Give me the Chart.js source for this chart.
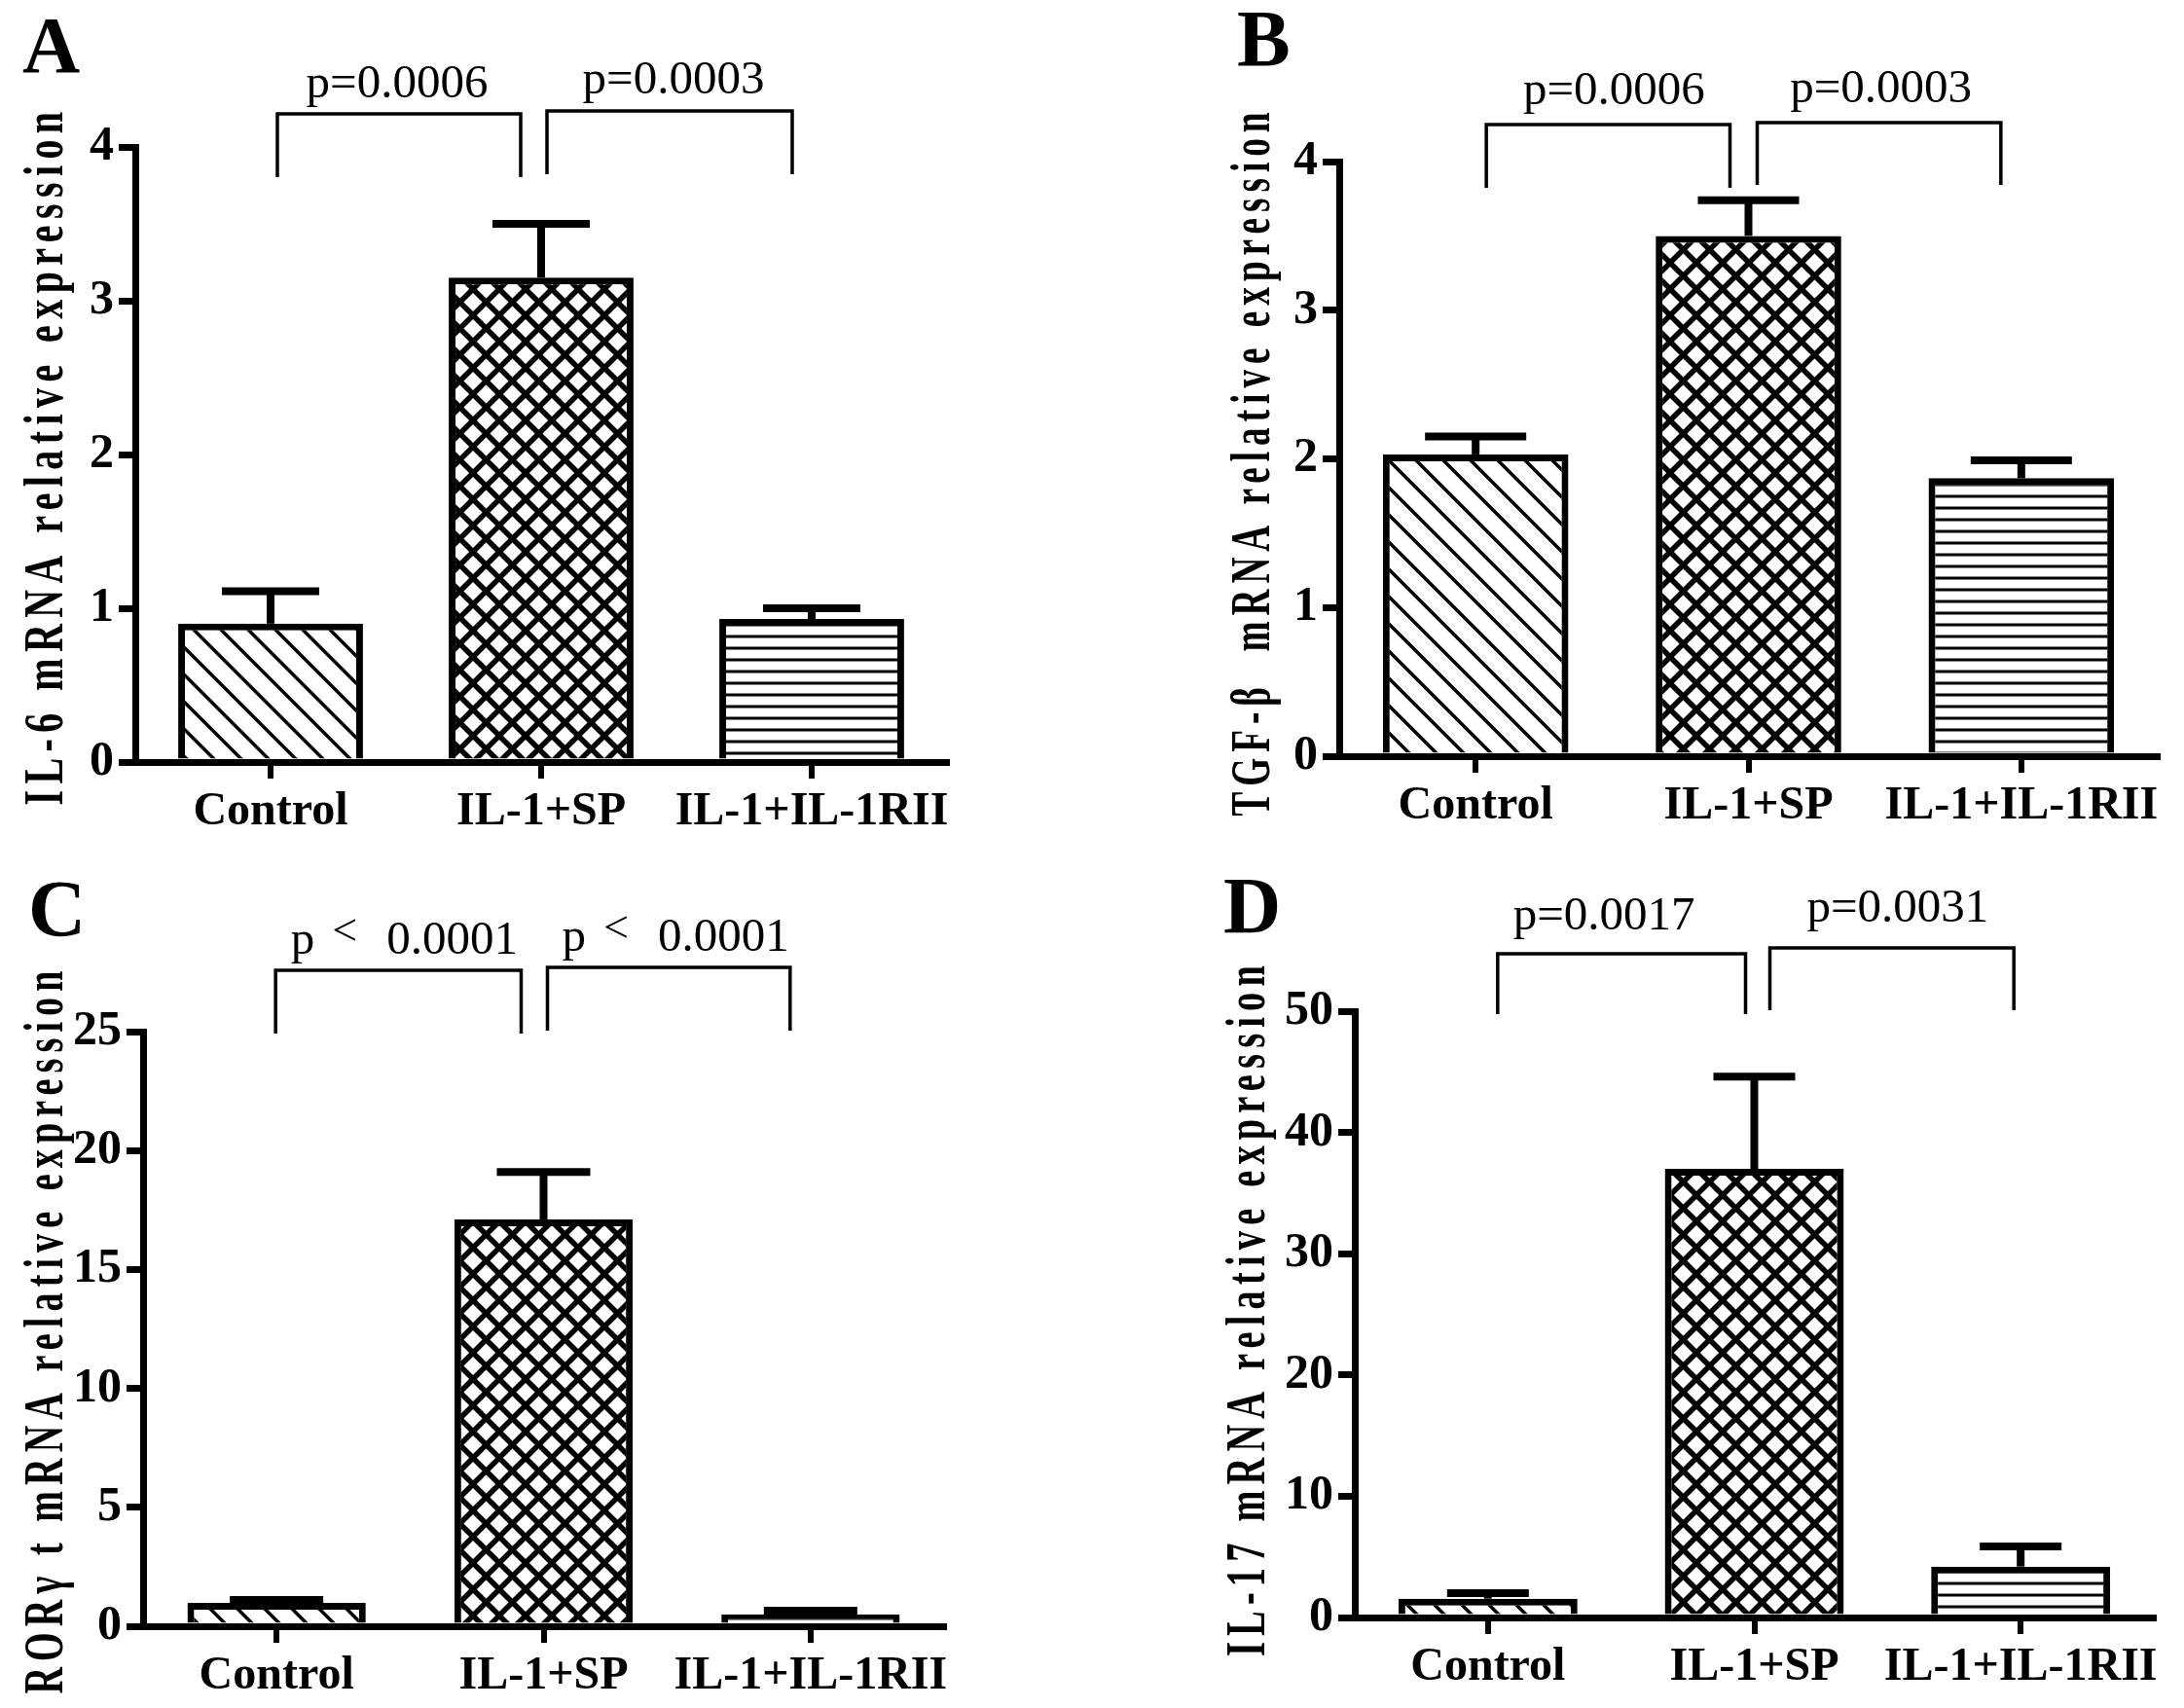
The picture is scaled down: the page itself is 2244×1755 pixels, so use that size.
<!DOCTYPE html>
<html>
<head>
<meta charset="utf-8">
<script src="https://cdn.jsdelivr.net/npm/chart.js@4.4.1/dist/chart.umd.min.js"></script>
<style>
  html, body { margin:0; padding:0; background:#fff; }
  #wrap { position:relative; width:2244px; height:1755px; background:#fff; overflow:hidden; }
  canvas { position:absolute; }
</style>
</head>
<body>
<div id="wrap">
  <canvas id="cA" width="1122" height="877" style="left:0px;top:0px"></canvas>
  <canvas id="cB" width="1122" height="877" style="left:1122px;top:0px"></canvas>
  <canvas id="cC" width="1122" height="877" style="left:0px;top:877px"></canvas>
  <canvas id="cD" width="1122" height="877" style="left:1122px;top:877px"></canvas>
</div>
<script>
// ---------------- DATA ----------------
const categories = ['Control', 'IL-1+SP', 'IL-1+IL-1RII'];

const il6Mean  = [0.90, 3.15, 0.93];
const il6Sem   = [0.21, 0.35, 0.07];
const tgfMean  = [2.03, 3.50, 1.87];
const tgfSem   = [0.12, 0.24, 0.12];
const rorMean  = [0.98, 17.1, 0.50];
const rorSem   = [0.12, 2.00, 0.15];
const il17Mean = [1.55, 37.0, 4.20];
const il17Sem  = [0.45, 7.60, 1.65];

const yMax  = [4, 4, 25, 50];
const yStep = [1, 1, 5, 10];

const pA = ['p=0.0006', 'p=0.0003'];
const pB = ['p=0.0006', 'p=0.0003'];
const pC = ['p < 0.0001', 'p < 0.0001'];
const pD = ['p=0.0017', 'p=0.0031'];

const panelLetters = ['A', 'B', 'C', 'D'];
const yTitles = [
  'IL-6 mRNA relative expression',
  'TGF-\u03B2  mRNA relative expression',
  'ROR\u03B3 t mRNA relative expression',
  'IL-17 mRNA relative expression'
];

// ---------------- STYLE / LAYOUT ----------------
const FONT = "'Liberation Serif', 'Times New Roman', serif";
const W = 1122, H = 877;

const layouts = [
  { axisX:139, right:973,  top:151, bottom:783, barPct:0.683, cap:50,
    letter:[23,74], title:[50,468,719],
    br:[{l:7,r:-21,t:-34,b:31,ty:-51,dx:-2},{l:6,r:-20,t:-37,b:28,ty:-55,dx:4}] },
  { axisX:254, right:1095, top:166, bottom:777, barPct:0.68, cap:52,
    letter:[149,67], title:[168,474,729],
    br:[{l:11,r:-19,t:-38,b:27,ty:-59,dx:6},{l:9,r:-21,t:-40,b:24,ty:-61,dx:2}] },
  { axisX:147, right:970,  top:183, bottom:794, barPct:0.668, cap:48,
    letter:[29,84], title:[50,489,749],
    br:[{l:-1,r:-23,t:-63,b:2,ty:-80,dx:6},{l:4,r:-21,t:-66,b:-1,ty:-83,dx:7}] },
  { axisX:270, right:1091, top:162, bottom:785, barPct:0.672, cap:42,
    letter:[135,81], title:[163,467,716],
    br:[{l:10,r:-9,t:-59,b:3,ty:-84,dx:-18},{l:16,r:-7,t:-65,b:-1,ty:-92,dx:6}] }
];

// ---------------- PATTERNS ----------------
function makePattern(P, draw) {
  const c = document.createElement('canvas');
  c.width = P; c.height = P;
  const g = c.getContext('2d');
  g.fillStyle = '#fff'; g.fillRect(0, 0, P, P);
  g.strokeStyle = '#000'; g.lineCap = 'square';
  draw(g, P);
  return g.createPattern(c, 'repeat');
}
const patDiag = makePattern(28, (g, P) => {
  g.lineWidth = 3.5;
  for (let k = -1; k <= 1; k++) { g.beginPath(); g.moveTo(k*P, 0); g.lineTo(k*P + P, P); g.stroke(); }
});
const patCross = makePattern(27, (g, P) => {
  g.lineWidth = 5.5;
  for (let k = -1; k <= 1; k++) { g.beginPath(); g.moveTo(k*P, 0); g.lineTo(k*P + P, P); g.stroke(); }
  for (let k = 0; k <= 2; k++) { g.beginPath(); g.moveTo(k*P, 0); g.lineTo(k*P - P, P); g.stroke(); }
});
const patHoriz = makePattern(12, (g, P) => {
  g.lineWidth = 3;
  g.beginPath(); g.moveTo(0, 6); g.lineTo(P, 6); g.stroke();
});

// ---------------- PLUGINS ----------------
function errorBarPlugin(sem, L) {
  return {
    id: 'errbars',
    afterDatasetsDraw(chart) {
      const ctx = chart.ctx, ys = chart.scales.y;
      const ds = chart.data.datasets[0];
      const meta = chart.getDatasetMeta(0);
      ctx.save();
      ctx.strokeStyle = '#000';
      ctx.lineWidth = 8;
      ctx.lineCap = 'butt';
      meta.data.forEach((bar, i) => {
        const v = ds.data[i];
        const y0 = ys.getPixelForValue(v);
        const y1 = ys.getPixelForValue(v + sem[i]);
        ctx.beginPath(); ctx.moveTo(bar.x, y0); ctx.lineTo(bar.x, y1); ctx.stroke();
        ctx.beginPath(); ctx.moveTo(bar.x - L.cap, y1); ctx.lineTo(bar.x + L.cap, y1); ctx.stroke();
      });
      ctx.restore();
    }
  };
}

function drawPText(ctx, txt, cx, y) {
  ctx.font = `49px ${FONT}`;
  ctx.textBaseline = 'alphabetic';
  if (txt.indexOf('<') >= 0) {
    const parts = txt.split('<').map(s => s.trim());
    const wp = ctx.measureText(parts[0]).width;
    const wd = ctx.measureText(parts[1]).width;
    ctx.font = `46px ${FONT}`;
    const wl = ctx.measureText('<').width;
    const g1 = 18, g2 = 30;
    const total = wp + g1 + wl + g2 + wd;
    let x = cx - total / 2;
    ctx.textAlign = 'left';
    ctx.font = `49px ${FONT}`;
    ctx.fillText(parts[0], x, y);
    x += wp + g1;
    ctx.font = `46px ${FONT}`;
    ctx.fillText('<', x, y - 9);
    x += wl + g2;
    ctx.font = `49px ${FONT}`;
    ctx.fillText(parts[1], x, y);
  } else {
    ctx.textAlign = 'center';
    ctx.fillText(txt, cx, y);
  }
}

function annotationPlugin(idx, pvals, L) {
  return {
    id: 'annot',
    afterDraw(chart) {
      const ctx = chart.ctx, xs = chart.scales.x, ys = chart.scales.y;
      const topPx = ys.getPixelForValue(ys.max);
      ctx.save();
      ctx.fillStyle = '#000';
      ctx.strokeStyle = '#000';
      // panel letter
      ctx.font = `bold 82px ${FONT}`;
      ctx.textAlign = 'left';
      ctx.textBaseline = 'alphabetic';
      ctx.fillText(panelLetters[idx], L.letter[0], L.letter[1]);
      // y title
      ctx.save();
      ctx.translate(L.title[0], L.title[1]);
      ctx.rotate(-Math.PI / 2);
      ctx.font = `bold 56px ${FONT}`;
      try { ctx.letterSpacing = '9px'; } catch (e) {}
      const mw = ctx.measureText(yTitles[idx]).width;
      ctx.scale(L.title[2] / mw, 1);
      ctx.textAlign = 'center';
      ctx.textBaseline = 'middle';
      ctx.fillText(yTitles[idx], 0, 0);
      ctx.restore();
      // brackets + p values
      ctx.lineWidth = 3.5;
      ctx.lineJoin = 'miter';
      L.br.forEach((b, k) => {
        const xl = xs.getPixelForValue(k) + b.l;
        const xr = xs.getPixelForValue(k + 1) + b.r;
        const yt = topPx + b.t, yb = topPx + b.b;
        ctx.beginPath();
        ctx.moveTo(xl, yb); ctx.lineTo(xl, yt); ctx.lineTo(xr, yt); ctx.lineTo(xr, yb);
        ctx.stroke();
        drawPText(ctx, pvals[k], (xl + xr) / 2 + b.dx, topPx + b.ty);
      });
      ctx.restore();
    }
  };
}

// ---------------- CHARTS ----------------
function makeChart(canvasId, idx, mean, sem, pvals) {
  const L = layouts[idx];
  return new Chart(document.getElementById(canvasId), {
    type: 'bar',
    data: {
      labels: categories,
      datasets: [{
        data: mean,
        backgroundColor: [patDiag, patCross, patHoriz],
        borderColor: '#000',
        borderWidth: 7,
        borderSkipped: 'start',
        barPercentage: L.barPct,
        categoryPercentage: 1
      }]
    },
    options: {
      responsive: false,
      animation: false,
      devicePixelRatio: 1,
      layout: { padding: { left: 0, top: L.top, right: W - L.right, bottom: 0 } },
      plugins: { legend: { display: false }, tooltip: { enabled: false }, title: { display: false } },
      scales: {
        x: {
          type: 'category',
          offset: true,
          z: 1,
          grid: { offset: false, drawOnChartArea: false, drawTicks: true, tickLength: 17, color: '#000', lineWidth: 6 },
          border: { display: true, color: '#000', width: 7 },
          ticks: { color: '#000', font: { family: FONT, weight: 'bold', size: 48 }, padding: 6, maxRotation: 0, autoSkip: false },
          afterFit: (s) => { s.height = H - L.bottom; }
        },
        y: {
          min: 0,
          max: yMax[idx],
          ticks: { stepSize: yStep[idx], color: '#000', font: { family: FONT, weight: 'bold', size: 50 }, padding: 5 },
          grid: { drawOnChartArea: false, drawTicks: true, tickLength: 17, color: '#000', lineWidth: 7 },
          border: { display: true, color: '#000', width: 7 },
          afterFit: (s) => { s.width = L.axisX; }
        }
      }
    },
    plugins: [errorBarPlugin(sem, L), annotationPlugin(idx, pvals, L)]
  });
}

makeChart('cA', 0, il6Mean, il6Sem, pA);
makeChart('cB', 1, tgfMean, tgfSem, pB);
makeChart('cC', 2, rorMean, rorSem, pC);
makeChart('cD', 3, il17Mean, il17Sem, pD);
</script>
</body>
</html>
